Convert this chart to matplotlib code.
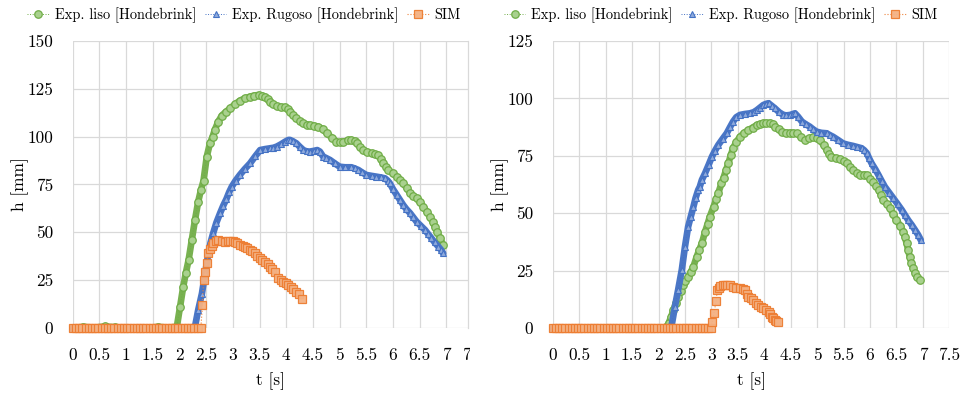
import matplotlib
matplotlib.use("Agg")
import matplotlib.pyplot as plt
from matplotlib.transforms import Bbox, blended_transform_factory, ScaledTranslation

# ---------------- data ----------------
labels = ["Exp. liso [Hondebrink]", "Exp. Rugoso [Hondebrink]", "SIM"]

# Left chart
liso_L_t = [0.0, 0.2, 0.4, 0.6, 0.8, 1.0, 1.2, 1.4, 1.6, 1.8, 1.95, 2.01, 2.07, 2.12, 2.17, 2.23,
            2.29, 2.35, 2.40, 2.45, 2.51, 2.57, 2.62, 2.66, 2.72, 2.79, 2.87, 2.95, 3.04, 3.13,
            3.22, 3.32, 3.40, 3.48, 3.55, 3.60, 3.65, 3.69, 3.75, 3.82, 3.90, 3.98, 4.03, 4.07,
            4.13, 4.19, 4.25, 4.32, 4.38, 4.44, 4.52, 4.60, 4.68, 4.76, 4.85, 4.94, 5.00, 5.07,
            5.15, 5.22, 5.28, 5.32, 5.38, 5.44, 5.52, 5.60, 5.66, 5.72, 5.77, 5.82, 5.87, 5.91,
            5.99, 6.07, 6.13, 6.19, 6.26, 6.32, 6.38, 6.44, 6.50, 6.57, 6.63, 6.69, 6.74, 6.78,
            6.83, 6.88, 6.94]
liso_L_h = [0, 0.6, 0.2, 0.8, 0.4, 0, 0, 0, 0.6, 0.2, 0.7, 11, 21.6, 29, 35.5, 46,
            56.5, 66, 72, 77, 89.5, 96.5, 100, 103.5, 107.5, 111, 113, 114.8, 117, 118.8,
            120, 120.9, 121.5, 121.8, 121.5, 120.9, 119.8, 118.3, 117, 116, 115.5, 115.4, 114.5, 113,
            111.3, 109.6, 108.2, 107, 106.3, 106, 105.7, 105.2, 104, 101.8, 99.5, 97.4, 97, 97.4,
            98, 98.3, 97.5, 96.5, 94.5, 93, 92, 91.3, 90.8, 90.4, 88.3, 86, 84.2, 82.6,
            80.8, 79.1, 77.4, 75.6, 73, 70.4, 69, 67.8, 65.8, 63.4, 60.8, 58.2, 55.6, 53,
            50, 46.9, 43.4]

rug_L_t = [0.0, 0.5, 1.0, 1.5, 2.0, 2.25, 2.29, 2.35, 2.42, 2.48, 2.54, 2.58, 2.63, 2.69, 2.76,
           2.82, 2.88, 2.93, 2.98, 3.05, 3.13, 3.22, 3.32, 3.42, 3.51, 3.60, 3.69, 3.76, 3.82,
           3.90, 3.98, 4.04, 4.07, 4.13, 4.19, 4.25, 4.32, 4.38, 4.44, 4.52, 4.58, 4.63, 4.69,
           4.75, 4.82, 4.91, 5.00, 5.10, 5.22, 5.28, 5.35, 5.42, 5.50, 5.60, 5.69, 5.77, 5.85,
           5.90, 5.94, 6.00, 6.07, 6.13, 6.19, 6.25, 6.32, 6.38, 6.44, 6.52, 6.60, 6.66, 6.72,
           6.78, 6.85, 6.90, 6.94]
rug_L_h = [0, 0, 0, 0, 0, 0, 0.7, 9.4, 18, 28.6, 39, 44.5, 49.5, 55, 60,
           64, 67.5, 71, 73.9, 77, 80, 83, 86, 89.8, 93, 93.5, 93.9, 94.2, 94.8,
           96, 97.4, 98.3, 98.3, 97.5, 96.5, 94.8, 93, 92.3, 92.2, 92.6, 93, 92.2, 89.6,
           88.8, 87.8, 86, 84.3, 84, 84, 83.4, 82.6, 81.3, 80, 79.5, 79.1, 78.7, 78.2,
           77, 75.6, 72.5, 69.5, 66.9, 64.3, 62.1, 60, 57.8, 55.6, 53.4, 51.2, 49, 46.9,
           44.7, 42.5, 40.8, 39]

sim_L_t = [0.0, 0.06, 0.12, 0.18, 0.24, 0.30, 0.36, 0.42, 0.48, 0.54, 0.60, 0.66, 0.72, 0.78,
           0.84, 0.90, 0.96, 1.02, 1.08, 1.14, 1.20, 1.26, 1.32, 1.38, 1.44, 1.50, 1.56, 1.62,
           1.68, 1.74, 1.80, 1.86, 1.92, 1.98, 2.04, 2.10, 2.16, 2.22, 2.28, 2.34, 2.40,
           2.43, 2.45, 2.48, 2.51, 2.54, 2.57, 2.60, 2.63, 2.68, 2.73, 2.79, 2.85, 2.90, 2.95,
           3.00, 3.04, 3.08, 3.13, 3.18, 3.23, 3.27, 3.32, 3.36, 3.41, 3.46, 3.51, 3.55, 3.60,
           3.65, 3.69, 3.74, 3.79, 3.85, 3.90, 3.94, 3.99, 4.04, 4.09, 4.13, 4.19, 4.24, 4.29]
sim_L_h = [0, 0, 0, 0, 0, 0, 0, 0, 0, 0, 0, 0, 0, 0,
           0, 0, 0, 0, 0, 0, 0, 0, 0, 0, 0, 0, 0, 0,
           0, 0, 0, 0, 0, 0, 0, 0, 0, 0, 0, 0, 0,
           12, 25, 29.4, 33.8, 39, 41.1, 43, 44.2, 45.5, 46, 45.6, 45.1, 45.5, 45.6,
           45.4, 45.1, 44.2, 43.4, 43, 42.5, 41.6, 40.8, 40, 39, 37.6, 36.4, 35.5, 34.7,
           33.3, 32, 30.7, 29.4, 26, 25, 24.2, 23.4, 22.5, 21.2, 20.2, 19, 18, 15]

# Right chart
liso_R_t = [0.0, 0.3, 0.6, 0.9, 1.2, 1.5, 1.8, 2.1, 2.15, 2.19, 2.24, 2.28, 2.33, 2.37, 2.42,
            2.47, 2.51, 2.56, 2.61, 2.66, 2.72, 2.77, 2.82, 2.88, 2.93, 2.97, 3.04, 3.09, 3.13,
            3.19, 3.23, 3.28, 3.32, 3.37, 3.41, 3.47, 3.54, 3.62, 3.70, 3.78, 3.86, 3.92, 3.98,
            4.04, 4.11, 4.16, 4.20, 4.27, 4.33, 4.41, 4.49, 4.55, 4.61, 4.69, 4.77, 4.85, 4.93,
            4.99, 5.05, 5.12, 5.18, 5.23, 5.27, 5.35, 5.43, 5.50, 5.56, 5.62, 5.68, 5.75, 5.81,
            5.88, 5.94, 6.00, 6.06, 6.11, 6.16, 6.21, 6.25, 6.32, 6.38, 6.44, 6.50, 6.57, 6.63,
            6.66, 6.69, 6.72, 6.75, 6.78, 6.82, 6.85, 6.88, 6.94]
liso_R_h = [0, 0, 0, 0, 0, 0, 0, 0, 0.5, 2, 5, 7.8, 11, 13.6, 16.2,
            18.7, 20.5, 22.3, 24.5, 26.7, 31, 34, 36.9, 41.9, 45.5, 48.5, 52.8, 56, 58.7,
            63, 65.5, 69, 71.7, 75.5, 78.3, 81, 83.3, 85, 86.2, 87.3, 88.4, 88.9, 89.2,
            89.2, 89.4, 88.7, 87.7, 86.5, 85.5, 85.1, 85, 84.9, 84.8, 83.3, 81.9, 82.6, 83.3,
            82.6, 81.9, 79.7, 77.5, 75.8, 74.6, 74, 73.5, 72.6, 71.7, 70.2, 68.8, 67.5, 66.6,
            66.8, 66.6, 65, 63.7, 62, 60.1, 58, 55.7, 53.9, 52.1, 49.5, 47, 44.5, 41.9,
            39.5, 36.9, 34, 31, 28.5, 26, 24, 22.3, 20.9]

rug_R_t = [0.0, 0.5, 1.0, 1.5, 2.0, 2.2, 2.25, 2.31, 2.37, 2.44, 2.50, 2.56, 2.61, 2.66, 2.70,
           2.75, 2.78, 2.82, 2.88, 2.95, 3.01, 3.07, 3.13, 3.21, 3.29, 3.35, 3.41, 3.47, 3.54,
           3.63, 3.73, 3.80, 3.86, 3.92, 3.98, 4.03, 4.08, 4.14, 4.20, 4.28, 4.36, 4.42, 4.49,
           4.55, 4.58, 4.64, 4.71, 4.78, 4.86, 4.92, 4.99, 5.08, 5.18, 5.24, 5.30, 5.40, 5.49,
           5.58, 5.68, 5.76, 5.84, 5.89, 5.94, 5.98, 6.03, 6.10, 6.16, 6.22, 6.28, 6.36, 6.44,
           6.52, 6.60, 6.66, 6.72, 6.79, 6.85, 6.91, 6.96]
rug_R_h = [0, 0, 0, 0, 0, 0, 1.3, 9.3, 16.5, 25.3, 35.4, 44.1, 48.5, 52.8, 56.5,
           60.1, 61.5, 64.5, 67.4, 71.2, 74.6, 77.3, 79.7, 82.3, 84.8, 87.4, 89.9, 91.8, 92.8,
           93.2, 93.5, 94, 94.9, 96, 97.1, 97.6, 97.9, 96.8, 95.7, 94, 92.8, 92.6, 92.8,
           93.3, 93.5, 92, 89.9, 88.8, 87.7, 86.6, 85.5, 85, 84.8, 84, 83.3, 81.8, 80.4,
           79.8, 79.3, 78.8, 78.3, 77.4, 76.1, 74, 71.7, 69.1, 66.6, 64, 61.5, 59, 56.5,
           54, 51.4, 49.2, 47, 44.8, 42.7, 40.5, 38.3]

sim_R_t = [0.0, 0.06, 0.12, 0.18, 0.24, 0.30, 0.36, 0.42, 0.48, 0.54, 0.60, 0.66, 0.72, 0.78,
           0.84, 0.90, 0.96, 1.02, 1.08, 1.14, 1.20, 1.26, 1.32, 1.38, 1.44, 1.50, 1.56, 1.62,
           1.68, 1.74, 1.80, 1.86, 1.92, 1.98, 2.04, 2.10, 2.16, 2.22, 2.28, 2.34, 2.40, 2.46,
           2.52, 2.58, 2.64, 2.70, 2.76, 2.82, 2.88, 2.94, 3.00,
           3.02, 3.05, 3.09, 3.11, 3.14, 3.16, 3.21, 3.26, 3.30, 3.35, 3.41, 3.47, 3.54, 3.59,
           3.64, 3.67, 3.70, 3.75, 3.79, 3.84, 3.89, 3.94, 3.98, 4.03, 4.08, 4.11, 4.14, 4.17,
           4.20, 4.23, 4.26]
sim_R_h = [0, 0, 0, 0, 0, 0, 0, 0, 0, 0, 0, 0, 0, 0,
           0, 0, 0, 0, 0, 0, 0, 0, 0, 0, 0, 0, 0, 0,
           0, 0, 0, 0, 0, 0, 0, 0, 0, 0, 0, 0, 0, 0,
           0, 0, 0, 0, 0, 0, 0, 0, 0,
           2.5, 6.7, 11.9, 16.5, 17.5, 18.3, 18.7, 18.7, 18.7, 18.7, 17.7, 17.5, 17.3, 17,
           16.5, 15, 13.6, 13, 12.2, 11, 10, 9.3, 8.6, 7.8, 7.1, 6, 4.9, 4.2,
           3.5, 3, 2.7]

xticks_L = [0, 0.5, 1, 1.5, 2, 2.5, 3, 3.5, 4, 4.5, 5, 5.5, 6, 6.5, 7]
xticks_R = [0, 0.5, 1, 1.5, 2, 2.5, 3, 3.5, 4, 4.5, 5, 5.5, 6, 6.5, 7, 7.5]
yticks_L = [0, 25, 50, 75, 100, 125, 150]
yticks_R = [0, 25, 50, 75, 100, 125]

# ---------------- styling ----------------
plt.rcParams["font.family"] = "serif"
plt.rcParams["font.serif"] = ["cmr10", "DejaVu Serif"]
plt.rcParams["axes.formatter.use_mathtext"] = True

GREEN, GREEN_F = "#70AD47", "#A9D18E"
BLUE, BLUE_F = "#4472C4", "#8FAADC"
ORANGE, ORANGE_F = "#ED7D31", "#F4B183"
GRID = "#d9d9d9"
FS = 12.5
LFS = 10.4
PAD = 14

fig = plt.figure(figsize=(9.66, 3.98), dpi=100)
axL = fig.add_axes([0.0753, 0.1759, 0.4095, 0.7211])
axR = fig.add_axes([0.5722, 0.1759, 0.4106, 0.7211])


def fmt(v):
    return f"{v:g}"


def draw(ax, lt, lh, rt, rh, st, sh):
    # thick bands (the dense sample clouds)
    ax.plot(lt, lh, color="#78B150", lw=4.8, solid_capstyle="round", zorder=2, clip_on=False)
    h1, = ax.plot(lt, lh, ls=":", lw=0.7, color=GREEN, marker="o", ms=5.4,
                  mfc=GREEN_F, mec=GREEN, mew=0.9, zorder=3, clip_on=False)
    ax.plot(rt, rh, color="#4A76C6", lw=4.8, solid_capstyle="round", zorder=4, clip_on=False)
    h2, = ax.plot(rt, rh, ls=":", lw=0.7, color=BLUE, marker="^", ms=4.4,
                  mfc=BLUE_F, mec=BLUE, mew=0.8, zorder=5, clip_on=False)
    h3, = ax.plot(st, sh, ls=":", lw=0.8, color=ORANGE, marker="s", ms=5.2,
                  mfc=ORANGE_F, mec=ORANGE, mew=0.9, alpha=0.95, zorder=6, clip_on=False)
    return [h1, h2, h3]


def style(ax, xmax, ymax, xticks, yticks):
    ax.set_xlim(0, xmax)
    ax.set_ylim(0, ymax)
    for s in ax.spines.values():
        s.set_visible(False)
    ax.set_xticks(xticks, [fmt(v) for v in xticks])
    ax.set_yticks(yticks, [fmt(v) for v in yticks])
    ax.grid(True, color=GRID, lw=0.9)
    ax.set_axisbelow(True)
    ax.tick_params(length=0, labelsize=FS, pad=PAD)
    ax.set_xlabel("t [s]", fontsize=FS)
    ax.set_ylabel("h [mm]", fontsize=FS)
    ax.xaxis.set_label_coords(0.5, -0.155)
    ax.yaxis.set_label_coords(-0.11, 0.5)


hL = draw(axL, liso_L_t, liso_L_h, rug_L_t, rug_L_h, sim_L_t, sim_L_h)
hR = draw(axR, liso_R_t, liso_R_h, rug_R_t, rug_R_h, sim_R_t, sim_R_h)
style(axL, 7.41, 150, xticks_L, yticks_L)
style(axR, 7.5, 125, xticks_R, yticks_R)

# right border of the cropped left chart
axL.spines["right"].set_visible(True)
axL.spines["right"].set_color(GRID)
axL.spines["right"].set_linewidth(0.9)

# clipped "7.5" label of the left chart (reference is cropped there)
tr = blended_transform_factory(axL.transData, axL.transAxes) + \
    ScaledTranslation(0, -PAD / 72, fig.dpi_scale_trans)
t75 = axL.text(7.5, 0, "7.5", transform=tr, ha="center", va="top", fontsize=FS)
t75.set_clip_on(True)
t75.set_clip_path(None)
t75.set_clip_box(Bbox.from_extents(0, 0, 470, 398))

for ax, hs, cx in [(axL, hL, 0.2526), (axR, hR, 0.746)]:
    ax.legend(hs, labels, loc="center", bbox_to_anchor=(cx, 0.962),
              bbox_transform=fig.transFigure, ncol=3, frameon=False, fontsize=LFS,
              handlelength=1.5, handletextpad=0.4, columnspacing=0.6,
              borderpad=0, borderaxespad=0)

fig.savefig("out.png", dpi=100)
